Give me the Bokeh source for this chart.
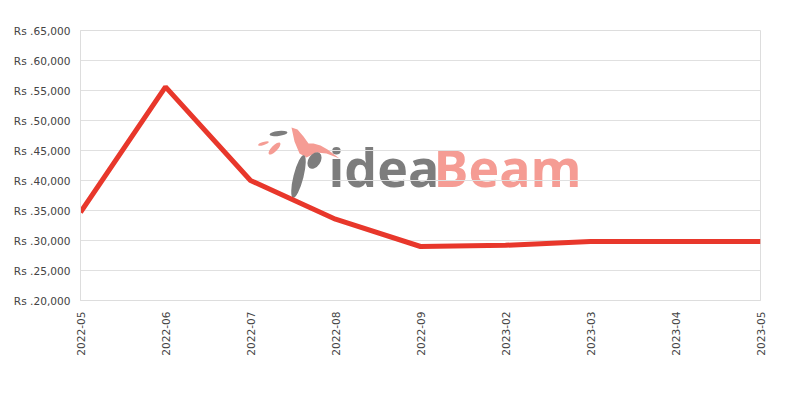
import math
from bokeh.plotting import figure
from bokeh.models import FixedTicker, Label, Range1d
from bokeh.embed import file_html
from bokeh.resources import INLINE

months = ["2022-05", "2022-06", "2022-07", "2022-08", "2022-09",
          "2023-02", "2023-03", "2023-04", "2023-05"]
prices = [34700, 55600, 39999, 33550, 29000, 29200, 29850, 29850, 29850]
y_ticks = [20000, 25000, 30000, 35000, 40000, 45000, 50000, 55000, 60000, 65000]
y_labels = ["Rs .%s" % f"{v:,}" for v in y_ticks]

xs = list(range(len(months)))
YMIN, YMAX = 20000, 65000

p = figure(width=800, height=400, output_backend="svg", toolbar_location=None,
           x_range=Range1d(0, len(months) - 1), y_range=Range1d(YMIN, YMAX),
           min_border_left=80, min_border_right=40, min_border_top=30, min_border_bottom=100)
p.outline_line_color = "#dddddd"
p.background_fill_color = "white"

# helpers for the decorative watermark (pixel -> data)
def wx(px):
    return (px - 80) / 680 * (len(months) - 1)

def wy(py):
    return YMIN + (300 - py) / 270 * (YMAX - YMIN)

GRAY = "#7d7d7d"
PINK = "#f59c94"

# watermark logo (decorative)
p.patch([wx(v) for v in [291, 297, 303, 308, 313, 320, 327, 339, 326, 316, 306, 299, 294]],
        [wy(v) for v in [127, 129, 136, 143, 143, 145, 149, 158, 153, 152, 157, 153, 141]],
        fill_color=PINK, line_color=None)
p.ellipse([wx(278)], [wy(133)], width=18, height=5, width_units="screen",
          height_units="screen", angle=0.1, fill_color=GRAY, line_color=None)
p.ellipse([wx(263)], [wy(143)], width=11, height=3, width_units="screen",
          height_units="screen", angle=0.3, fill_color=PINK, line_color=None)
p.ellipse([wx(274)], [wy(148)], width=16, height=6, width_units="screen",
          height_units="screen", angle=0.8, fill_color=PINK, line_color=None)
p.ellipse([wx(298)], [wy(176)], width=10, height=44, width_units="screen",
          height_units="screen", angle=-0.25, fill_color=GRAY, line_color=None)
p.ellipse([wx(314)], [wy(160)], width=12, height=18, width_units="screen",
          height_units="screen", angle=-0.6, fill_color=GRAY, line_color=None)

for txt, px, col in [("idea", 328, GRAY), ("Beam", 433, PINK)]:
    p.add_layout(Label(x=wx(px), y=wy(166), text=txt, text_font="Open Sans",
                       text_font_size="52px", text_font_style="bold", text_color=col,
                       text_baseline="alphabetic", level="image"))

p.line(xs, prices, line_color="#e8372b", line_width=5)

p.xaxis.ticker = FixedTicker(ticks=xs)
p.xaxis.major_label_overrides = {i: m for i, m in enumerate(months)}
p.xaxis.major_label_orientation = math.pi / 2
p.yaxis.ticker = FixedTicker(ticks=y_ticks)
p.yaxis.major_label_overrides = {v: l for v, l in zip(y_ticks, y_labels)}

for ax in (p.xaxis, p.yaxis):
    ax.axis_line_color = "#dddddd"
    ax.major_tick_line_color = None
    ax.minor_tick_line_color = None
    ax.major_label_text_font = "DejaVu Sans"
    ax.major_label_text_font_size = "10.6px"
    ax.major_label_text_color = "#444444"
p.yaxis.major_label_standoff = 4
p.xaxis.major_label_standoff = 5

p.xgrid.grid_line_color = None
p.ygrid.grid_line_color = "#e0e0e0"

open("out.html", "w").write(file_html(p, INLINE))
